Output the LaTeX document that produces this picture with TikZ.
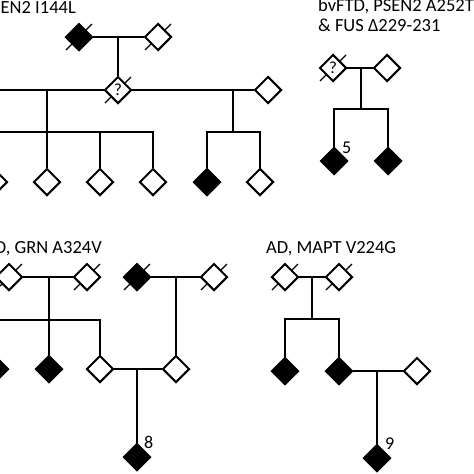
\documentclass[tikz,border=0pt]{standalone}
\usepackage{fontspec}
\setmainfont{Carlito}
\usetikzlibrary{shapes.geometric,backgrounds}
\tikzset{
  pers/.style={diamond,draw=black,line width=2pt,minimum width=27pt,minimum height=27pt,inner sep=0pt,fill=white,font=\fontsize{17}{17}\selectfont},
  aff/.style={pers,fill=black},
  ln/.style={line width=1.8pt,line cap=rect},
  slash/.style={line width=1.4pt},
  ttl/.style={font=\fontsize{18.5}{20}\selectfont,inner sep=0pt},
  num/.style={font=\fontsize{18}{18}\selectfont,inner sep=0pt}
}
\begin{document}
\begin{tikzpicture}[x=1pt,y=-1pt]
\useasboundingbox (0,0) rectangle (474,474);
\clip (0,0) rectangle (474,474);
% ---------- pedigree 1 (top left) ----------
\node[ttl,anchor=base east] (t1) at (76,13) {PSEN2 I144L};
\node[aff] (a1) at (79,37) {};
\node[pers] (a2) at (158,37) {};
\node[pers] (a3) at (118,90) {?};
\node[pers] (a4) at (268,90) {};
\node[pers] (a0) at (-30,90) {};
\node[pers] (c1) at (-6,182) {};
\node[pers] (c2) at (47,182) {};
\node[pers] (c3) at (100,182) {};
\node[pers] (c4) at (153,182) {};
\node[aff] (c5) at (207,182) {};
\node[pers] (c6) at (260,182) {};
\coordinate (m1) at (118,37);
\coordinate (m2) at (47,90);
\coordinate (s2) at (47,132);
\coordinate (m3) at (233,90);
\coordinate (s3) at (233,132);
\draw[ln] (a1) -- (a2);
\draw[ln] (m1) -- (a3);
\draw[ln] (a0) -- (a3);
\draw[ln] (a3) -- (a4);
\draw[ln] (m2) -- (s2);
\draw[ln] (c1.north) |- (s2) -| (c4.north);
\draw[ln] (c2.north) -- (s2);
\draw[ln] (c3.north) -- (c3.north |- s2);
\draw[ln] (m3) -- (s3);
\draw[ln] (c5.north) |- (s3) -| (c6.north);
% ---------- pedigree 2 (top right) ----------
\node[ttl,anchor=base west] (t2) at (318,11) {bvFTD, PSEN2 A252T};
\node[ttl,anchor=base west] (t2b) at (318,31) {\& FUS Δ229-231};
\node[pers] (b1) at (333,68) {?};
\node[pers] (b2) at (387,68) {};
\node[aff] (b3) at (334,161) {};
\node[aff] (b4) at (388,161) {};
\node[num,anchor=base west] (n5) at (342,153) {5};
\coordinate (mb) at (361,68);
\coordinate (sb) at (361,109);
\draw[ln] (b1) -- (b2);
\draw[ln] (mb) -- (sb);
\draw[ln] (b3.north) |- (sb) -| (b4.north);
% ---------- pedigree 3 (bottom left) ----------
\node[ttl,anchor=base east] (t3) at (102,253) {FTD, GRN A324V};
\node[pers] (d1) at (9,277) {};
\node[pers] (d2) at (87,277) {};
\node[aff] (d3) at (137,277) {};
\node[pers] (d4) at (214,277) {};
\node[aff] (e1) at (-5,369) {};
\node[aff] (e2) at (49,369) {};
\node[pers] (e3) at (100,369) {};
\node[pers] (e4) at (176,369) {};
\node[aff] (f1) at (137,457) {};
\node[num,anchor=base west] (n8) at (144,448) {8};
\coordinate (md) at (49,277);
\coordinate (sd) at (49,320);
\coordinate (md2) at (176,277);
\coordinate (me) at (137,369);
\draw[ln] (d1) -- (d2);
\draw[ln] (d3) -- (d4);
\draw[ln] (md) -- (sd);
\draw[ln] (e1.north) |- (sd) -| (e3.north);
\draw[ln] (e2.north) -- (sd);
\draw[ln] (md2) -- (e4);
\draw[ln] (e3) -- (e4);
\draw[ln] (me) -- (f1);
% ---------- pedigree 4 (bottom right) ----------
\node[ttl,anchor=base west] (t4) at (266,253) {AD, MAPT V224G};
\node[pers] (g1) at (285,277) {};
\node[pers] (g2) at (339,277) {};
\node[aff] (h1) at (285,371) {};
\node[aff] (h2) at (339,371) {};
\node[pers] (h3) at (417,371) {};
\node[aff] (i1) at (377,458) {};
\node[num,anchor=base west] (n9) at (385,449) {9};
\coordinate (mg) at (312,277);
\coordinate (sg) at (312,319);
\coordinate (mh) at (377,371);
\draw[ln] (g1) -- (g2);
\draw[ln] (mg) -- (sg);
\draw[ln] (h1.north) |- (sg) -| (h2.north);
\draw[ln] (h2) -- (h3);
\draw[ln] (mh) -- (i1);
% ---------- deceased slashes, behind the symbols ----------
\begin{pgfonlayer}{background}
\foreach \n in {a1,a2,a3,b1,d1,d2,d3,d4,g1,g2}
  \draw[slash] ([shift={(-13,13)}]\n.center) -- ([shift={(13,-13)}]\n.center);
\end{pgfonlayer}
\end{tikzpicture}
\end{document}
